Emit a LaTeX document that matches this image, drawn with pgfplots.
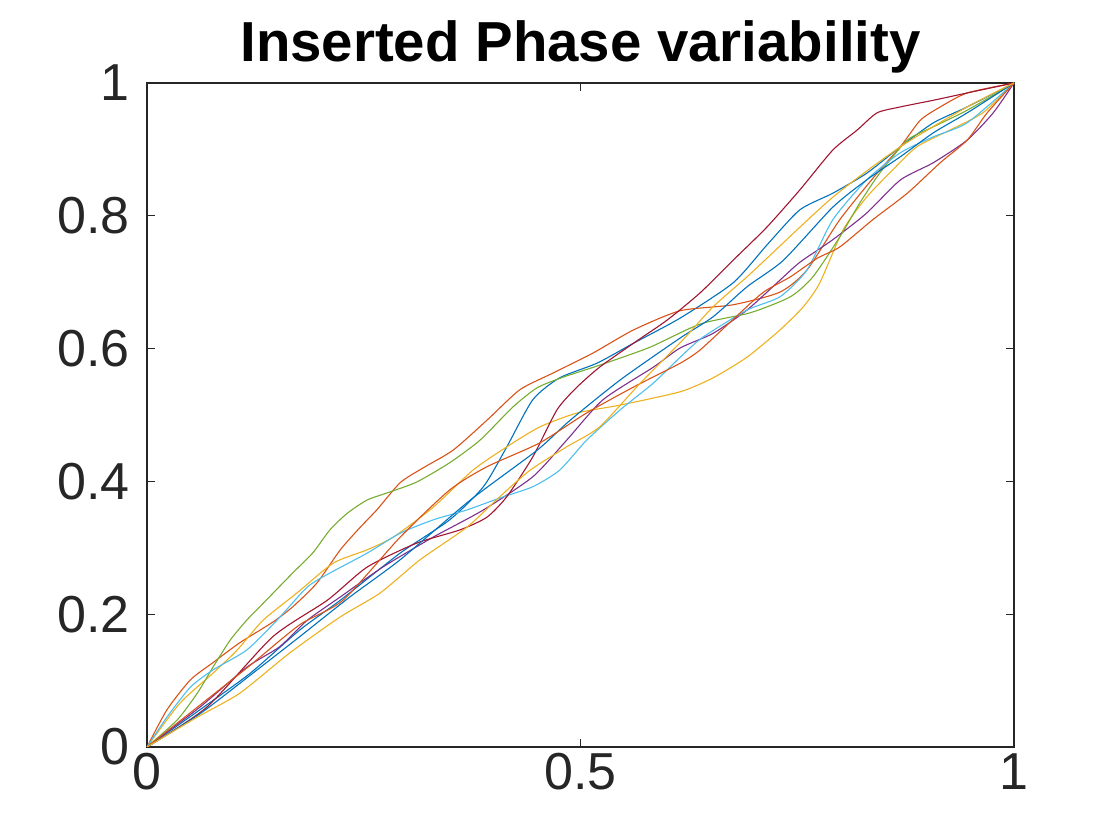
\documentclass[border=0pt]{standalone}
\usepackage{pgfplots}
\pgfplotsset{compat=1.18}
\usepackage{fontspec}
\setmainfont{Liberation Sans}

\definecolor{mblue}{rgb}{0,0.447,0.741}
\definecolor{morange}{rgb}{0.85,0.325,0.098}
\definecolor{myellow}{rgb}{0.929,0.694,0.125}
\definecolor{mpurple}{rgb}{0.494,0.184,0.556}
\definecolor{mgreen}{rgb}{0.466,0.674,0.188}
\definecolor{mlblue}{rgb}{0.301,0.745,0.933}
\definecolor{mdred}{rgb}{0.635,0.078,0.184}
\definecolor{axgray}{rgb}{0.15,0.15,0.15}

\begin{document}
\begin{tikzpicture}
\useasboundingbox (-73.5pt,-46.5pt) rectangle (486.5pt,373.5pt);
\begin{axis}[
  at={(0,0)}, anchor=south west,
  scale only axis,
  width=433.5pt, height=332pt,
  xmin=0, xmax=1, ymin=0, ymax=1,
  xtick={0,0.5,1}, ytick={0,0.2,0.4,0.6,0.8,1},
  tick align=inside,
  major tick length=4pt,
  axis line style={axgray, line width=0.6pt},
  every tick/.style={axgray, line width=0.6pt},
  /pgf/number format/assume math mode=true,
  ticklabel style={font=\fontsize{26}{30}\selectfont, text=axgray},
  xticklabel style={anchor=north, inner sep=0pt, yshift=-3pt},
  yticklabel style={anchor=east, inner sep=0pt, xshift=-8.5pt},
  title={Inserted Phase variability},
  title style={at={(0.5,1)}, anchor=base, yshift=4.5pt, inner sep=0pt,
    font=\fontsize{28.2}{32}\selectfont\bfseries},
  every axis plot/.append style={line width=0.55pt, no markers, smooth, tension=0.4},
]
% blue (steep around 0.45)
\addplot[mblue] coordinates {
(0,0) (0.061,0.056) (0.119,0.111) (0.176,0.176) (0.223,0.221) (0.292,0.292)
(0.349,0.342) (0.388,0.392) (0.415,0.452) (0.445,0.523) (0.476,0.556)
(0.519,0.578) (0.561,0.608) (0.615,0.646) (0.676,0.699) (0.715,0.756)
(0.753,0.809) (0.791,0.834) (0.830,0.864) (0.869,0.904) (0.907,0.940)
(0.946,0.964) (1,1)};
% orange (upper)
\addplot[morange] coordinates {
(0,0) (0.023,0.056) (0.050,0.101) (0.076,0.127) (0.107,0.157) (0.145,0.188)
(0.168,0.211) (0.196,0.247) (0.223,0.297) (0.246,0.331) (0.265,0.357)
(0.292,0.398) (0.318,0.420) (0.353,0.447) (0.392,0.492) (0.430,0.538)
(0.468,0.563) (0.514,0.593) (0.561,0.628) (0.615,0.657) (0.676,0.666)
(0.730,0.685) (0.761,0.718) (0.799,0.794) (0.842,0.864) (0.869,0.904)
(0.892,0.944) (0.915,0.964) (0.946,0.985) (1,1)};
% yellow (flat in the middle)
\addplot[myellow] coordinates {
(0,0) (0.038,0.066) (0.076,0.111) (0.104,0.146) (0.134,0.191) (0.173,0.232)
(0.215,0.277) (0.254,0.297) (0.284,0.316) (0.330,0.361) (0.376,0.417)
(0.415,0.452) (0.453,0.482) (0.496,0.503) (0.546,0.515) (0.615,0.535)
(0.653,0.556) (0.692,0.587) (0.730,0.628) (0.757,0.663) (0.776,0.699)
(0.803,0.779) (0.830,0.828) (0.860,0.869) (0.888,0.904) (0.926,0.929)
(0.964,0.955) (1,1)};
% purple
\addplot[mpurple] coordinates {
(0,0) (0.061,0.060) (0.115,0.120) (0.153,0.151) (0.185,0.191) (0.223,0.226)
(0.272,0.271) (0.330,0.316) (0.388,0.357) (0.445,0.407) (0.484,0.462)
(0.526,0.523) (0.584,0.572) (0.615,0.601) (0.653,0.623) (0.692,0.658)
(0.730,0.703) (0.753,0.730) (0.791,0.764) (0.830,0.804) (0.869,0.854)
(0.907,0.880) (0.946,0.914) (0.976,0.955) (1,1)};
% green
\addplot[mgreen] coordinates {
(0,0) (0.035,0.041) (0.058,0.081) (0.076,0.120) (0.096,0.161) (0.115,0.191)
(0.130,0.211) (0.168,0.262) (0.191,0.292) (0.211,0.327) (0.231,0.352)
(0.254,0.372) (0.280,0.384) (0.311,0.399) (0.349,0.428) (0.384,0.462)
(0.422,0.512) (0.450,0.541) (0.480,0.557) (0.522,0.575) (0.580,0.602)
(0.638,0.637) (0.696,0.654) (0.742,0.678) (0.768,0.708) (0.799,0.768)
(0.822,0.819) (0.845,0.864) (0.877,0.914) (0.907,0.934) (0.946,0.959) (1,1)};
% light blue
\addplot[mlblue] coordinates {
(0,0) (0.023,0.045) (0.050,0.090) (0.076,0.116) (0.115,0.146) (0.150,0.191)
(0.185,0.241) (0.211,0.262) (0.254,0.292) (0.292,0.322) (0.330,0.342)
(0.369,0.357) (0.407,0.375) (0.445,0.392) (0.476,0.417) (0.507,0.462)
(0.546,0.508) (0.584,0.548) (0.615,0.587) (0.641,0.617) (0.692,0.658)
(0.730,0.678) (0.761,0.718) (0.791,0.794) (0.830,0.854) (0.869,0.895)
(0.907,0.919) (0.946,0.940) (1,1)};
% dark red
\addplot[mdred] coordinates {
(0,0) (0.069,0.060) (0.145,0.166) (0.208,0.221) (0.254,0.271) (0.311,0.307)
(0.361,0.327) (0.392,0.346) (0.415,0.377) (0.445,0.437) (0.473,0.508)
(0.496,0.542) (0.522,0.572) (0.561,0.608) (0.600,0.643) (0.638,0.684)
(0.676,0.733) (0.715,0.783) (0.753,0.839) (0.791,0.899) (0.819,0.929)
(0.842,0.955) (0.869,0.964) (0.907,0.974) (0.946,0.985) (1,1)};
% blue (second)
\addplot[mblue] coordinates {
(0,0) (0.061,0.050) (0.119,0.108) (0.176,0.166) (0.234,0.226) (0.292,0.282)
(0.373,0.372) (0.450,0.447) (0.488,0.492) (0.546,0.553) (0.615,0.616)
(0.653,0.648) (0.692,0.693) (0.734,0.733) (0.791,0.813) (0.830,0.854)
(0.869,0.889) (0.907,0.925) (0.946,0.955) (1,1)};
% orange (second)
\addplot[morange] coordinates {
(0,0) (0.061,0.063) (0.119,0.123) (0.176,0.184) (0.226,0.221) (0.292,0.316)
(0.349,0.387) (0.392,0.422) (0.453,0.458) (0.507,0.503) (0.561,0.542)
(0.615,0.578) (0.638,0.598) (0.672,0.639) (0.710,0.684) (0.742,0.708)
(0.773,0.736) (0.799,0.753) (0.837,0.794) (0.877,0.834) (0.915,0.880)
(0.946,0.914) (0.969,0.955) (1,1)};
% yellow (second)
\addplot[myellow] coordinates {
(0,0) (0.058,0.045) (0.107,0.081) (0.165,0.142) (0.223,0.196) (0.269,0.232)
(0.315,0.282) (0.369,0.331) (0.407,0.377) (0.442,0.417) (0.484,0.452)
(0.522,0.482) (0.569,0.548) (0.618,0.613) (0.653,0.663) (0.692,0.708)
(0.715,0.736) (0.791,0.828) (0.869,0.904) (0.946,0.964) (1,1)};
\end{axis}
\end{tikzpicture}
\end{document}
